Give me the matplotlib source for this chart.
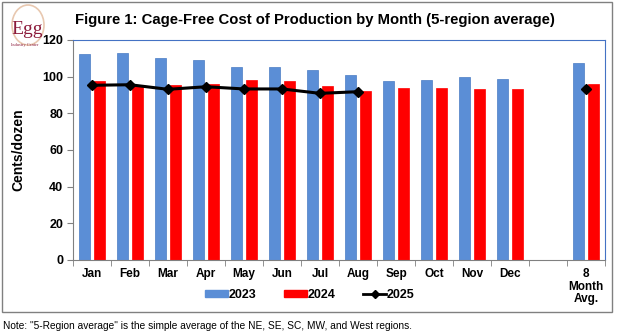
import matplotlib
matplotlib.use("Agg")
import matplotlib.pyplot as plt
import numpy as np
from matplotlib.patches import Rectangle, Ellipse
from matplotlib.lines import Line2D

plt.rcParams['font.family'] = ['Liberation Sans', 'DejaVu Sans']

categories = ["Jan", "Feb", "Mar", "Apr", "May", "Jun", "Jul", "Aug", "Sep", "Oct", "Nov", "Dec", "", "8\nMonth\nAvg."]
cost_2023 = [112.4, 113.1, 110.2, 109.1, 105.5, 105.5, 103.6, 101.1, 97.6, 98.2, 99.8, 98.7, None, 107.5]
cost_2024 = [97.6, 95.5, 95.5, 95.8, 98.4, 97.6, 95.1, 92.2, 93.8, 93.8, 93.3, 93.3, None, 96.0]
cost_2025_months = [95.3, 95.6, 93.1, 94.5, 93.3, 93.3, 90.9, 91.8]
cost_2025_avg = 93.1

BLUE = "#5B8ED6"
RED = "#FF0000"

fig = plt.figure(figsize=(6.17, 3.34), dpi=100)

# outer frame
fig.add_artist(Rectangle((2/617, 1-312/334), 610/617, 310/334, transform=fig.transFigure,
                         fill=False, edgecolor="#808080", linewidth=1.0))

ax = fig.add_axes([73/617, 1-260/334, 532/617, 220/334])
x = np.arange(len(categories))
w = 0.31
off = 0.2
for i in x:
    if cost_2023[i] is not None:
        ax.bar(i - off, cost_2023[i], width=w, color=BLUE, edgecolor="#4A7CC4", linewidth=0.5, zorder=2)
    if cost_2024[i] is not None:
        ax.bar(i + off, cost_2024[i], width=w, color=RED, edgecolor=RED, linewidth=0.5, zorder=2)

ax.plot(np.arange(len(cost_2025_months)), cost_2025_months, color="black", linewidth=2.2,
        marker="D", markersize=5.5, zorder=3)
ax.plot([13], [cost_2025_avg], color="black", marker="D", markersize=5.5, linestyle="none", zorder=3)

ax.set_xlim(-0.5, 13.5)
ax.set_ylim(0, 120)
ax.set_yticks(np.arange(0, 121, 20))
ax.set_xticks(x)
ax.set_xticklabels(categories, fontweight="bold", fontsize=8.5, linespacing=1.05, va="top")
ax.set_xticks(np.arange(-0.5, 13.6, 1), minor=True)
ax.tick_params(axis="x", which="major", length=0, pad=6)
ax.tick_params(axis="x", which="minor", length=4, direction="out", color="#808080")
ax.tick_params(axis="y", length=4, direction="out", color="#808080", labelsize=9, pad=3)
for lab in ax.get_yticklabels():
    lab.set_fontweight("bold")

for s in ["top", "right"]:
    ax.spines[s].set_color("#4472C4")
    ax.spines[s].set_linewidth(0.8)
for s in ["left", "bottom"]:
    ax.spines[s].set_color("#808080")
    ax.spines[s].set_linewidth(0.8)

ax.set_ylabel("Cents/dozen", fontweight="bold", fontsize=10, labelpad=12)

handles = [Rectangle((0, 0), 1, 1, color=BLUE), Rectangle((0, 0), 1, 1, color=RED),
           Line2D([], [], color="black", linewidth=2, marker="D", markersize=4.5)]
leg = fig.legend(handles, ["2023", "2024", "2025"], loc="center", bbox_to_anchor=(310/617, 1-295/334),
                 ncol=3, frameon=False, handlelength=1.85, handleheight=0.55, columnspacing=2.2,
                 handletextpad=0.05, prop={"weight": "bold", "size": 9})

fig.text(75/617, 1-20/334, "Figure 1: Cage-Free Cost of Production by Month (5-region average)",
         fontweight="bold", fontsize=10.7, va="center", ha="left")

# logo
fig.add_artist(Ellipse((28/617, 1-25/334), 32/617, 40/334, transform=fig.transFigure,
                       fill=False, edgecolor="#E8C8B0", linewidth=1.2))
fig.text(27/617, 1-30/334, "Egg", family="Liberation Serif", fontsize=14, color="#8B1A3A",
         ha="center", va="center")
fig.text(25/617, 1-45/334, "Industry Center", family="Liberation Serif", fontsize=3.2,
         color="#8B1A3A", ha="center", va="center")

fig.text(3/617, 1-326/334, 'Note: "5-Region average" is the simple average of the NE, SE, SC, MW, and West regions.',
         fontsize=7.3, ha="left", va="center")

fig.savefig("out.png", dpi=100)
